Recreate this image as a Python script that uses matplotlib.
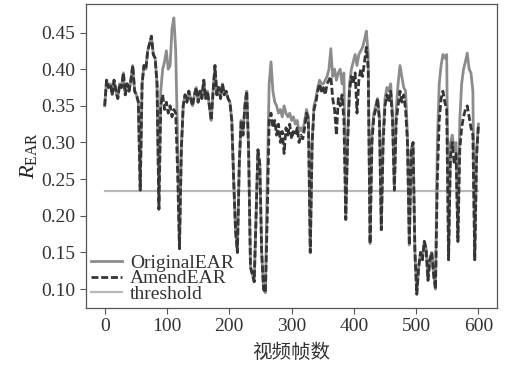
import numpy as np
import matplotlib
matplotlib.use("Agg")
import matplotlib.pyplot as plt

plt.rcParams['font.family'] = ['Liberation Serif', 'DejaVu Serif']
plt.rcParams['mathtext.fontset'] = 'custom'
plt.rcParams['mathtext.rm'] = 'Liberation Serif'
plt.rcParams['mathtext.it'] = 'Liberation Serif:italic'

frames = np.arange(0, 601, 3)

amend_ear = [
    0.350, 0.385, 0.375, 0.380, 0.365, 0.385, 0.370, 0.360, 0.380, 0.375,
    0.395, 0.365, 0.380, 0.370, 0.385, 0.405, 0.370, 0.365, 0.355, 0.235,
    0.380, 0.405, 0.400, 0.425, 0.435, 0.445, 0.420, 0.415, 0.380, 0.209,
    0.350, 0.365, 0.345, 0.355, 0.340, 0.350, 0.335, 0.345, 0.340, 0.260,
    0.155, 0.290, 0.350, 0.365, 0.355, 0.370, 0.360, 0.350, 0.365, 0.375,
    0.355, 0.370, 0.360, 0.385, 0.360, 0.370, 0.350, 0.330, 0.370, 0.405,
    0.365, 0.375, 0.360, 0.380, 0.365, 0.370, 0.360, 0.355, 0.330, 0.250,
    0.180, 0.150, 0.270, 0.330, 0.310, 0.350, 0.370, 0.290, 0.130, 0.120,
    0.110, 0.200, 0.290, 0.270, 0.150, 0.100, 0.095, 0.200, 0.330, 0.340,
    0.320, 0.330, 0.310, 0.325, 0.300, 0.315, 0.285, 0.320, 0.310, 0.325,
    0.305, 0.315, 0.310, 0.320, 0.300, 0.310, 0.305, 0.320, 0.340, 0.330,
    0.150, 0.300, 0.345, 0.355, 0.370, 0.380, 0.370, 0.375, 0.365, 0.380,
    0.385, 0.390, 0.360, 0.345, 0.310, 0.360, 0.350, 0.365, 0.330, 0.195,
    0.300, 0.370, 0.390, 0.380, 0.395, 0.340, 0.385, 0.400, 0.390, 0.410,
    0.430, 0.400, 0.162, 0.300, 0.335, 0.345, 0.360, 0.330, 0.181, 0.300,
    0.350, 0.365, 0.355, 0.370, 0.330, 0.235, 0.330, 0.350, 0.370, 0.355,
    0.365, 0.345, 0.300, 0.160, 0.290, 0.300, 0.150, 0.093, 0.130, 0.150,
    0.140, 0.165, 0.155, 0.112, 0.140, 0.150, 0.120, 0.100, 0.250, 0.330,
    0.360, 0.370, 0.355, 0.345, 0.140, 0.280, 0.300, 0.270, 0.285, 0.165,
    0.290, 0.320, 0.335, 0.345, 0.350, 0.335, 0.320, 0.310, 0.140, 0.280,
    0.325,
]

original_ear = [
    0.350, 0.385, 0.375, 0.380, 0.365, 0.385, 0.370, 0.360, 0.380, 0.375,
    0.395, 0.365, 0.380, 0.370, 0.385, 0.405, 0.370, 0.365, 0.355, 0.235,
    0.380, 0.405, 0.400, 0.425, 0.435, 0.445, 0.420, 0.415, 0.380, 0.209,
    0.370, 0.400, 0.410, 0.425, 0.400, 0.405, 0.455, 0.470, 0.425, 0.300,
    0.155, 0.290, 0.350, 0.365, 0.355, 0.370, 0.360, 0.350, 0.365, 0.375,
    0.355, 0.370, 0.360, 0.385, 0.360, 0.370, 0.350, 0.330, 0.370, 0.405,
    0.365, 0.375, 0.360, 0.380, 0.365, 0.370, 0.360, 0.355, 0.330, 0.250,
    0.180, 0.150, 0.270, 0.330, 0.310, 0.350, 0.370, 0.290, 0.130, 0.120,
    0.110, 0.200, 0.290, 0.270, 0.150, 0.100, 0.095, 0.250, 0.380, 0.410,
    0.370, 0.355, 0.350, 0.340, 0.345, 0.335, 0.350, 0.340, 0.335, 0.340,
    0.330, 0.335, 0.325, 0.330, 0.315, 0.320, 0.315, 0.330, 0.345, 0.335,
    0.150, 0.300, 0.350, 0.360, 0.375, 0.385, 0.380, 0.380, 0.385, 0.390,
    0.400, 0.428, 0.390, 0.400, 0.385, 0.395, 0.400, 0.380, 0.395, 0.195,
    0.310, 0.380, 0.400, 0.410, 0.420, 0.405, 0.420, 0.425, 0.430, 0.440,
    0.452, 0.420, 0.162, 0.310, 0.340, 0.350, 0.360, 0.335, 0.181, 0.310,
    0.360, 0.375, 0.370, 0.380, 0.340, 0.235, 0.345, 0.380, 0.405, 0.390,
    0.375, 0.370, 0.310, 0.160, 0.290, 0.300, 0.150, 0.093, 0.130, 0.150,
    0.140, 0.165, 0.155, 0.112, 0.140, 0.150, 0.120, 0.100, 0.300, 0.380,
    0.405, 0.420, 0.415, 0.420, 0.140, 0.300, 0.310, 0.290, 0.300, 0.165,
    0.330, 0.380, 0.400, 0.410, 0.422, 0.400, 0.395, 0.370, 0.140, 0.290,
    0.325,
]

threshold = 0.234

fig = plt.figure(figsize=(5.12, 3.68), dpi=100)
ax = fig.add_axes([0.168, 0.163, 0.803, 0.826])

l_thr, = ax.plot(frames, [threshold] * len(frames), color='#b8b8b8', lw=1.6,
                 label='threshold', zorder=1)
l_orig, = ax.plot(frames, original_ear, color='#8c8c8c', lw=2.0,
                  label='OriginalEAR', zorder=2)
l_amend, = ax.plot(frames, amend_ear, color='#353535', lw=2.0, ls='--',
                   dashes=(2.5, 1.0), label='AmendEAR', zorder=3)

ax.set_xticks([0, 100, 200, 300, 400, 500, 600])
ax.set_yticks([0.10, 0.15, 0.20, 0.25, 0.30, 0.35, 0.40, 0.45])
ax.tick_params(labelsize=14, direction='out', length=4, width=0.8,
               color='#555555', labelcolor='#333333')
for s in ax.spines.values():
    s.set_color('#555555')
    s.set_linewidth(0.9)

ax.set_ylabel(r'$R_{\mathrm{EAR}}$', fontsize=16, color='#222222', labelpad=2)
ax.set_xlabel('视频帧数', fontsize=14, family=['Noto Sans CJK SC', 'DejaVu Sans'],
              color='#333333', labelpad=5)

ax.legend(handles=[l_orig, l_amend, l_thr], loc='lower left', frameon=False,
          fontsize=14, handlelength=1.6, handletextpad=0.4, labelspacing=-0.1,
          borderaxespad=0.1, borderpad=0.15, labelcolor='#333333')

fig.savefig('out.png', dpi=100)
